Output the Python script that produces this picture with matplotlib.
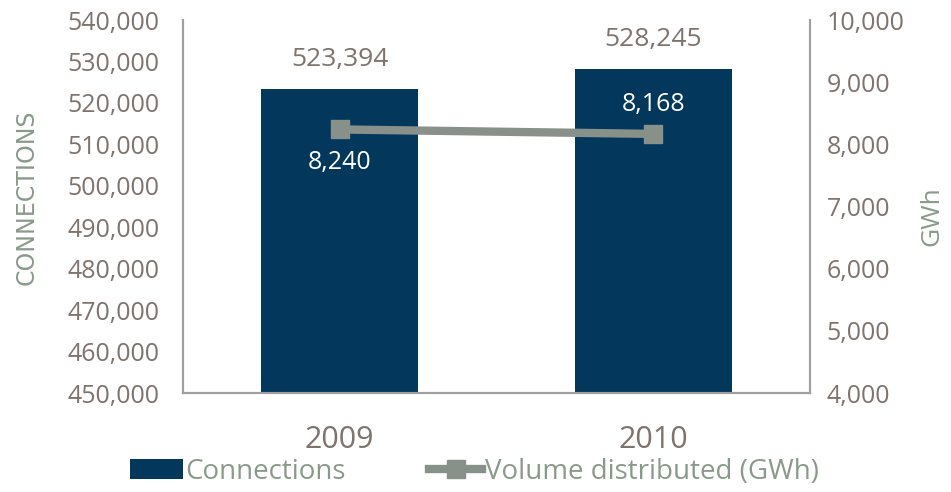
import matplotlib.pyplot as plt
from matplotlib.ticker import FuncFormatter

plt.rcParams["font.family"] = "Open Sans"

years = ['2009', '2010']
connections = [523394, 528245]
volume_gwh = [8240, 8168]

bar_color = '#03375c'
line_color = '#87918a'
tick_color = '#7f736d'
label_color = '#8a9a8a'
spine_color = '#a0a0a0'

fig = plt.figure(figsize=(9.51, 4.92), dpi=100)
ax1 = fig.add_axes([0.1924, 0.2012, 0.6593, 0.7581])
ax2 = ax1.twinx()

x = range(len(years))
bars = ax1.bar(x, connections, width=0.5, color=bar_color, label='Connections', zorder=2)
ax1.set_xlim(-0.5, 1.5)
ax1.set_ylim(450000, 540000)
ax1.set_yticks(range(450000, 540001, 10000))
ax1.yaxis.set_major_formatter(FuncFormatter(lambda v, p: f'{int(v):,}'))
ax1.set_xticks(list(x))
ax1.set_xticklabels(years, fontsize=22, color=tick_color)
ax1.tick_params(axis='x', length=0, pad=23)
ax1.tick_params(axis='y', length=0, labelsize=18, labelcolor=tick_color, pad=17)

line, = ax2.plot(x, volume_gwh, color=line_color, lw=6, marker='s', markersize=13,
                 label='Volume distributed (GWh)', zorder=3)
ax2.set_ylim(4000, 10000)
ax2.set_yticks(range(4000, 10001, 1000))
ax2.yaxis.set_major_formatter(FuncFormatter(lambda v, p: f'{int(v):,}'))
ax2.tick_params(axis='y', length=0, labelsize=18, labelcolor=tick_color, pad=12)

# axis titles placed in figure coords
fig.text(27 / 951, 1 - 197 / 492, 'CONNECTIONS', rotation=90, ha='center', va='center',
         color=label_color, fontsize=17, family='DejaVu Sans')
fig.text(932 / 951, 1 - 216 / 492, 'GWh', rotation=90, ha='center', va='center',
         color=label_color, fontsize=19)

for ax in (ax1, ax2):
    ax.spines['top'].set_visible(False)
    for s in ('left', 'right', 'bottom'):
        ax.spines[s].set_color(spine_color)
        ax.spines[s].set_linewidth(1.5)

# bar value labels
for xi, v in zip(x, connections):
    ax1.annotate(f'{v:,}', (xi, v), xytext=(0, 12), textcoords='offset points',
                 ha='center', va='bottom', fontsize=19, color=tick_color)

# line value labels
ax2.annotate(f'{volume_gwh[0]:,}', (0, volume_gwh[0]), xytext=(0, -15), textcoords='offset points',
             ha='center', va='top', fontsize=18, color='white')
ax2.annotate(f'{volume_gwh[1]:,}', (1, volume_gwh[1]), xytext=(0, 12), textcoords='offset points',
             ha='center', va='bottom', fontsize=18, color='white')

fig.legend([bars, line], ['Connections', 'Volume distributed (GWh)'],
           loc='center', bbox_to_anchor=(0.499, 0.041), ncol=2, frameon=False,
           fontsize=20, labelcolor=label_color, handlelength=1.9, handletextpad=0.1,
           columnspacing=3.0, borderpad=0)

fig.savefig('out.png', dpi=100)
